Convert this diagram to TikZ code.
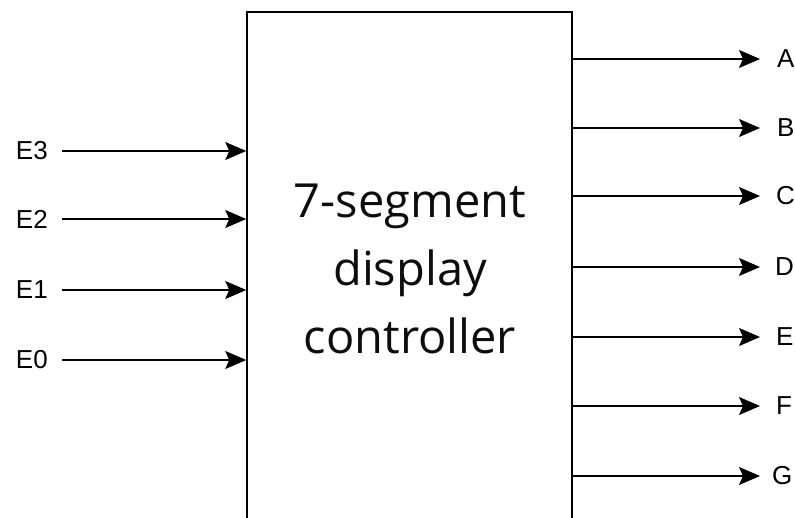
\documentclass[tikz,border=0pt]{standalone}
\usepackage{fontspec}
\setmainfont{Liberation Sans}
\newfontfamily\ctrlfont{Open Sans}
\usetikzlibrary{arrows.meta}

\tikzset{
  sig/.style={line width=1.5pt, -{Stealth[length=21pt, width=18pt, inset=4pt]}},
  inlbl/.style={font=\fontsize{26}{30}\selectfont, anchor=east, inner xsep=0pt, inner ysep=0pt},
  outlbl/.style={font=\fontsize{26}{30}\selectfont, anchor=west, inner xsep=0pt, inner ysep=0pt},
  block/.style={draw, line width=1.5pt, minimum width=325pt, minimum height=540pt, inner sep=0pt},
}

\begin{document}
\begin{tikzpicture}[x=1pt, y=-1pt]
  \useasboundingbox (0,0) rectangle (795,517);
  \clip (0,0) rectangle (795,517);

  % controller block (runs past the lower edge)
  \node[block] (ctrl) at (409.5,282) {};
  \node[font=\ctrlfont\fontsize{47}{68}\selectfont, align=center, text=black!95] (title) at (410,269)
    {7-segment\\display\\controller};

  % input labels and their free start points
  \node[inlbl] (e3) at (48,151) {E3};
  \node[inlbl] (e2) at (48,219) {E2};
  \node[inlbl] (e1) at (48,290) {E1};
  \node[inlbl] (e0) at (48,360) {E0};
  \foreach \n in {e3,e2,e1,e0} {
    \coordinate (\n s) at ([xshift=14pt]\n.east);
    \draw[sig] (\n s) -- (\n s -| ctrl.west);
  }

  % output labels
  \node[outlbl] (a) at (777,59) {A};
  \node[outlbl] (b) at (777,128) {B};
  \node[outlbl] (c) at (776,196) {C};
  \node[outlbl] (d) at (775,267) {D};
  \node[outlbl] (e) at (776,337) {E};
  \node[outlbl] (f) at (776,406) {F};
  \node[outlbl] (g) at (772,476) {G};
  \foreach \n in {a,b,c,d,e,f,g} {
    \coordinate (\n t) at (760,0);
    \draw[sig] (ctrl.east |- \n) -- (\n t |- \n);
  }
\end{tikzpicture}
\end{document}
